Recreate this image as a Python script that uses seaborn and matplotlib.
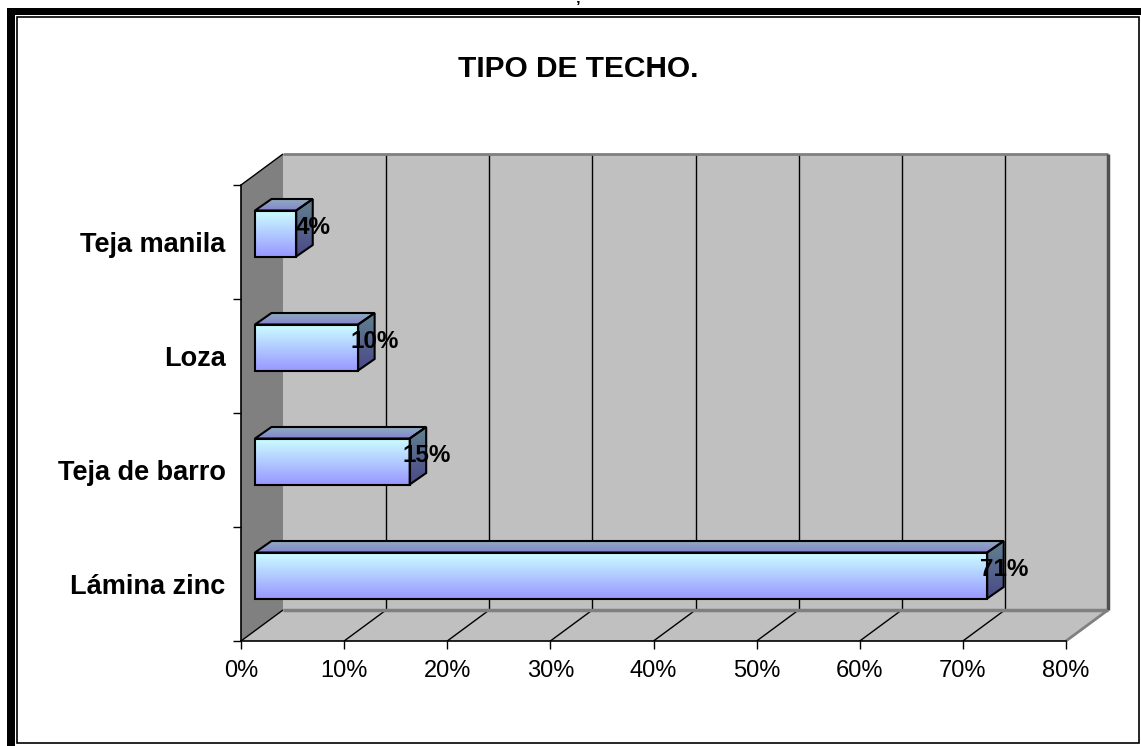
import numpy as np
import matplotlib
matplotlib.use('Agg')
import matplotlib.pyplot as plt
import seaborn as sns
from matplotlib.patches import Polygon, Rectangle
from matplotlib.colors import to_rgb
from matplotlib.ticker import FixedLocator, PercentFormatter

plt.rcParams['font.family'] = ['Liberation Sans', 'DejaVu Sans']

# data
categories = ['Teja manila', 'Loza', 'Teja de barro', 'Lámina zinc']
values = [4, 10, 15, 71]
value_labels = ['4%', '10%', '15%', '71%']
x_ticks = [0, 10, 20, 30, 40, 50, 60, 70, 80]
title = 'TIPO DE TECHO.'

W, H = 1141, 746
PX = 825 / 80      # pixels per percent on the front plane
CY = 114           # pixels per category
DX, DY = 42 / PX, 31 / CY     # depth of the 3d box, in data units
FX, FY = 14 / PX, 8.5 / CY    # bars sit a little behind the front plane
BX, BY = 16.5 / PX, 11.5 / CY  # bar thickness

fig = plt.figure(figsize=(W / 100, H / 100), dpi=100)
ax = fig.add_axes([241 / W, 1 - 641 / H, 825 / W, 456 / H])
ax.patch.set_visible(False)

sns.barplot(x=values, y=categories, orient='h', width=46 / CY, color='#ccffff',
            edgecolor='black', linewidth=1.5, ax=ax, zorder=4)
bars = list(ax.patches)

ytop, ybot = -0.5, 3.5
xmax = x_ticks[-1]


def line(xs, ys, color='black', lw=1.0, z=1.5):
    ax.plot(xs, ys, color=color, lw=lw, zorder=z, clip_on=False, solid_capstyle='butt')


# walls and floor
ax.add_patch(Polygon([(0, ytop), (0, ybot), (DX, ybot - DY), (DX, ytop - DY)],
                     fc='#808080', ec='none', zorder=0.5, clip_on=False))
ax.add_patch(Polygon([(DX, ytop - DY), (xmax + DX, ytop - DY), (xmax + DX, ybot - DY), (DX, ybot - DY)],
                     fc='#c0c0c0', ec='none', zorder=0.4, clip_on=False))
ax.add_patch(Polygon([(0, ybot), (xmax, ybot), (xmax + DX, ybot - DY), (DX, ybot - DY)],
                     fc='#c0c0c0', ec='none', zorder=0.5, clip_on=False))

for t in x_ticks[1:-1]:
    line([t + DX, t + DX], [ytop - DY, ybot - DY])
for t in x_ticks[:-1]:
    line([t, t + DX], [ybot, ybot - DY])
line([0, DX], [ytop, ytop - DY])
line([DX, xmax + DX], [ytop - DY, ytop - DY], color='#808080', lw=2)
line([DX, xmax + DX], [ybot - DY, ybot - DY], color='#808080', lw=2.5)
line([xmax + DX, xmax + DX], [ytop - DY, ybot - DY], color='#505050', lw=2.5)
line([xmax, xmax + DX], [ybot, ybot - DY], color='#808080', lw=2)


def shade(patch, c_top, c_bottom, extent, z):
    t = np.linspace(0, 1, 100)[:, None]
    rgb = (1 - t) * np.array(to_rgb(c_top)) + t * np.array(to_rgb(c_bottom))
    im = ax.imshow(rgb.reshape(100, 1, 3), extent=extent, origin='upper', aspect='auto',
                   interpolation='bilinear', zorder=z)
    im.set_clip_path(patch)


for p, lab in zip(bars, value_labels):
    cy = p.get_y() + p.get_height() / 2
    p.set_x(p.get_x() + FX)
    p.set_y(p.get_y() - FY)
    x0, yt, w, h = p.get_x(), p.get_y(), p.get_width(), p.get_height()
    x1, yb = x0 + w, yt + h

    shade(p, '#ccffff', '#9999ff', (x0, x1, yb, yt), 3.9)
    p.set_facecolor('none')

    top = Polygon([(x0, yt), (x1, yt), (x1 + BX, yt - BY), (x0 + BX, yt - BY)],
                  fc='none', ec='black', lw=1.5, zorder=4)
    ax.add_patch(top)
    shade(top, '#90b0c0', '#8585cc', (x0, x1 + BX, yt, yt - BY), 3.9)

    side = Polygon([(x1, yt), (x1, yb), (x1 + BX, yb - BY), (x1 + BX, yt - BY)],
                   fc='none', ec='black', lw=1.5, zorder=4)
    ax.add_patch(side)
    shade(side, '#628290', '#4a4a88', (x1, x1 + BX, yb, yt - BY), 3.9)

    ax.text(w + 31 / PX, cy - 8 / CY, lab, ha='center', va='baseline',
            fontsize=17.5, fontweight='bold', zorder=6)

ax.set_xlim(0, xmax)
ax.set_ylim(ybot, ytop)

ax.set_xticks(x_ticks)
ax.xaxis.set_major_formatter(PercentFormatter(decimals=0))
ax.tick_params(axis='x', length=5.8, width=1, color='black', labelsize=17, pad=8)
ax.tick_params(axis='y', which='major', length=0, labelsize=19.5, pad=11)
ax.yaxis.set_minor_locator(FixedLocator([-0.5, 0.5, 1.5, 2.5, 3.5]))
ax.tick_params(axis='y', which='minor', length=5.8, width=1, color='black')
for lbl in ax.get_yticklabels():
    lbl.set_fontweight('bold')
ax.set_xlabel('')
ax.set_ylabel('')

for s in ['top', 'right']:
    ax.spines[s].set_visible(False)
for s in ['left', 'bottom']:
    ax.spines[s].set_color('black')
    ax.spines[s].set_linewidth(1.2)
    ax.spines[s].set_zorder(2)

fig.text(578 / W, 1 - 77 / H, title, ha='center', va='baseline', fontsize=21.5, fontweight='bold')
fig.text(578 / W, 1 - 0.5 / H, '\u2019', ha='center', va='top', fontsize=12, fontweight='bold')


def frame_rect(x0, y0, x1, y1, **kw):
    return Rectangle((x0 / W, 1 - y1 / H), (x1 - x0) / W, (y1 - y0) / H,
                     transform=fig.transFigure, **kw)


fig.add_artist(frame_rect(7, 8, W, 15, fc='black', ec='none'))
fig.add_artist(frame_rect(7, 8, 15, H, fc='black', ec='none'))
fig.add_artist(frame_rect(17, 17, 1139, 743, fill=False, ec='black', lw=1.2))

fig.savefig('out.png', dpi=100)
